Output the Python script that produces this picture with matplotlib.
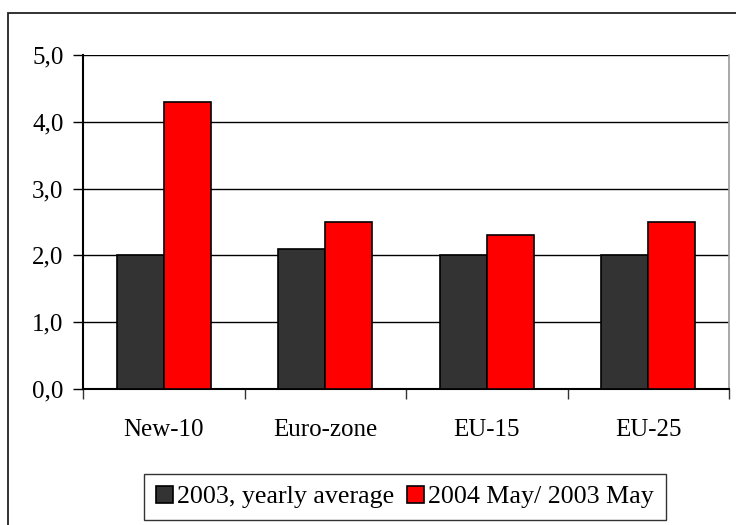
import matplotlib
matplotlib.use("Agg")
import matplotlib.pyplot as plt
from matplotlib.patches import Rectangle, Patch
from matplotlib.ticker import FuncFormatter
import numpy as np

categories = ["New-10", "Euro-zone", "EU-15", "EU-25"]
series_names = ["2003, yearly average", "2004 May/ 2003 May"]
avg_2003 = [2.0, 2.1, 2.0, 2.0]
may_2004 = [4.3, 2.5, 2.3, 2.5]
y_ticks = [0, 1, 2, 3, 4, 5]

plt.rcParams['font.family'] = ['Liberation Serif', 'DejaVu Serif']

W, H = 736, 525
fig = plt.figure(figsize=(W / 100, H / 100), dpi=100)
ax = fig.add_axes([83 / W, 1 - 389 / H, (729 - 83) / W, (389 - 55) / H])

x = np.arange(len(categories))
bw = 0.29
ax.bar(x - bw / 2, avg_2003, bw, color="#333333", edgecolor="black", linewidth=1.2, zorder=3)
ax.bar(x + bw / 2, may_2004, bw, color="#FF0000", edgecolor="black", linewidth=1.2, zorder=3)

ax.set_xlim(-0.5, len(categories) - 0.5)
ax.set_ylim(0, 5)
ax.set_yticks(y_ticks)
ax.yaxis.set_major_formatter(FuncFormatter(lambda v, p: f"{v:.1f}".replace(".", ",")))
ax.grid(axis="y", color="black", linewidth=1.0, zorder=0)

ax.set_xticks(np.arange(-0.5, len(categories), 1.0))
ax.set_xticklabels([])
ax.set_xticks(x, minor=True)
ax.set_xticklabels(categories, minor=True)
ax.tick_params(axis="x", which="major", length=7, width=1, direction="out", color="#333333")
ax.tick_params(axis="x", which="minor", length=0, pad=21.5, labelsize=18)
ax.tick_params(axis="y", length=7, width=1, direction="out", pad=7, labelsize=18)

ax.spines["top"].set_visible(False)
ax.spines["right"].set_color("#999999")
ax.spines["right"].set_linewidth(1.2)
ax.spines["left"].set_linewidth(1.5)
ax.spines["bottom"].set_linewidth(1.5)

# outer chart border (extends past the right and bottom edges)
fig.patches.append(Rectangle((8 / W, -0.1), 1.2, 1 - 13 / H + 0.1, transform=fig.transFigure,
                             fill=False, edgecolor="#222222", linewidth=1.3, clip_on=False))

handles = [Patch(facecolor="#333333", edgecolor="black", linewidth=1.2),
           Patch(facecolor="#FF0000", edgecolor="black", linewidth=1.2)]
leg = fig.legend(handles, series_names, loc="center", bbox_to_anchor=((147 + 663) / 2 / W, 1 - 497 / H),
                 ncol=2, fontsize=18.7, frameon=True, fancybox=False, edgecolor="black",
                 handlelength=0.66, handleheight=0.66, handletextpad=0.15, columnspacing=0.5,
                 borderpad=0.45, borderaxespad=0)
leg.get_frame().set_linewidth(1.0)

fig.savefig("out.png", dpi=100)
